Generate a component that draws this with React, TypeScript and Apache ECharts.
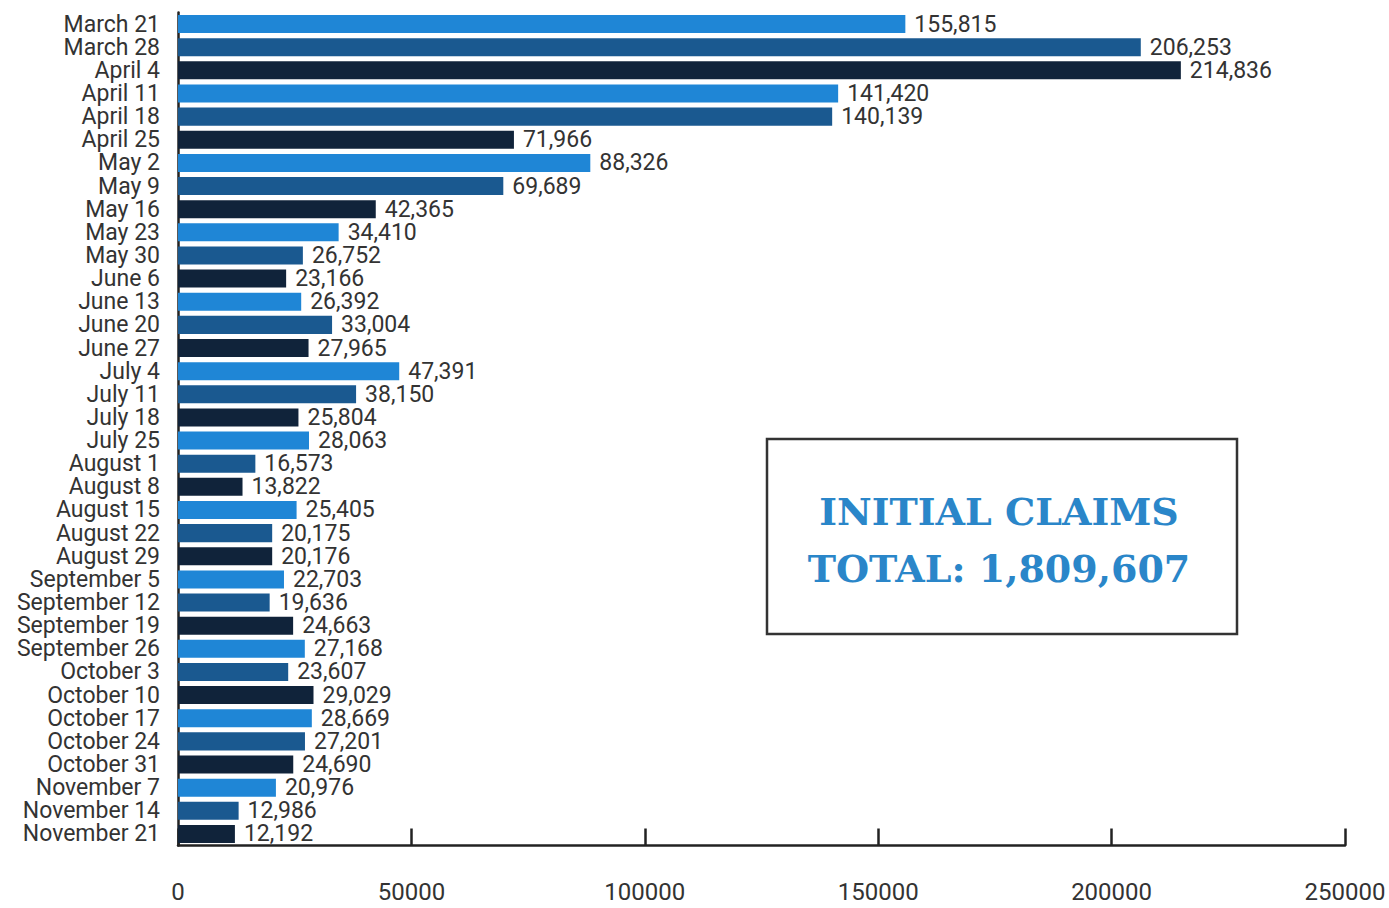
import React, { useEffect, useRef } from "react";
import * as echarts from "echarts";

const categories: string[] = [
  "March 21", "March 28", "April 4", "April 11", "April 18", "April 25",
  "May 2", "May 9", "May 16", "May 23", "May 30", "June 6", "June 13",
  "June 20", "June 27", "July 4", "July 11", "July 18", "July 25",
  "August 1", "August 8", "August 15", "August 22", "August 29",
  "September 5", "September 12", "September 19", "September 26",
  "October 3", "October 10", "October 17", "October 24", "October 31",
  "November 7", "November 14", "November 21",
];

const claims: number[] = [
  155815, 206253, 214836, 141420, 140139, 71966,
  88326, 69689, 42365, 34410, 26752, 23166, 26392,
  33004, 27965, 47391, 38150, 25804, 28063,
  16573, 13822, 25405, 20175, 20176,
  22703, 19636, 24663, 27168,
  23607, 29029, 28669, 27201, 24690,
  20976, 12986, 12192,
];

const barColors: string[] = ["#1f86d6", "#1a5990", "#10233a"];

const boxLines: string[] = ["INITIAL CLAIMS", "TOTAL: 1,809,607"];

export default function App() {
  const ref = useRef<HTMLDivElement>(null);

  useEffect(() => {
    document.body.style.margin = "0";
    if (!ref.current) return;
    const chart = echarts.init(ref.current, undefined, { renderer: "svg" });
    const fmt = (v: number) => v.toLocaleString("en-US");
    chart.setOption({
      animation: false,
      backgroundColor: "#ffffff",
      grid: { left: 178, right: 44, top: 12.5, bottom: 62.5, containLabel: false },
      xAxis: {
        type: "value",
        min: 0,
        max: 250000,
        interval: 50000,
        splitLine: { show: false },
        axisLine: { show: true, lineStyle: { color: "#222", width: 2.5 } },
        axisTick: { show: true, inside: true, length: 17, lineStyle: { color: "#222", width: 2.5 } },
        axisLabel: {
          margin: 34,
          fontSize: 24,
          fontFamily: "Roboto",
          color: "#333",
          formatter: (v: number) => String(v),
        },
      },
      yAxis: {
        type: "category",
        inverse: true,
        data: categories,
        axisLine: { show: true, lineStyle: { color: "#222", width: 2.5 } },
        axisTick: { show: false },
        axisLabel: {
          interval: 0,
          margin: 18,
          fontSize: 23,
          fontFamily: "Roboto",
          color: "#333",
          lineHeight: 22,
        },
      },
      series: [
        {
          type: "bar",
          data: claims.map((v, i) => ({ value: v, itemStyle: { color: barColors[i % 3] } })),
          barCategoryGap: "22%",
          label: {
            show: true,
            position: "right",
            distance: 9,
            fontSize: 23,
            lineHeight: 22,
            fontFamily: "Roboto",
            color: "#333",
            formatter: (p: any) => fmt(p.value),
          },
        },
      ],
      graphic: [
        {
          type: "rect",
          shape: { x: 767, y: 439, width: 470, height: 195 },
          style: { fill: "#ffffff", stroke: "#333", lineWidth: 2.5 },
          z: 10,
        },
        {
          type: "text",
          x: 999,
          y: 511,
          style: {
            text: boxLines[0],
            fill: "#2a86c9",
            font: "bold 38px 'DejaVu Serif'",
            textAlign: "center",
            textVerticalAlign: "middle",
          },
          z: 11,
        },
        {
          type: "text",
          x: 999,
          y: 568,
          style: {
            text: boxLines[1],
            fill: "#2a86c9",
            font: "bold 38px 'DejaVu Serif'",
            textAlign: "center",
            textVerticalAlign: "middle",
          },
          z: 11,
        },
      ],
    });
    return () => chart.dispose();
  }, []);

  return <div ref={ref} style={{ width: 1389, height: 908 }} />;
}
